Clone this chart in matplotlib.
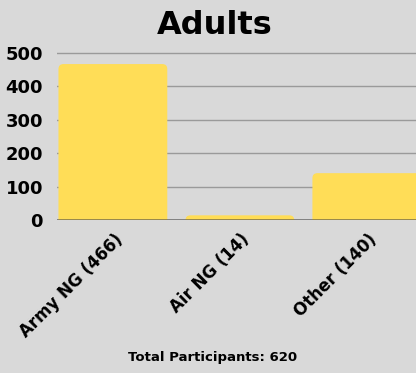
from matplotlib import pyplot as plt
from matplotlib.patches import FancyBboxPatch
from matplotlib.transforms import ScaledTranslation

categories = ['Army NG (466)', 'Air NG (14)', 'Other (140)']
counts = [466, 14, 140]
total = 620

bg = '#d9d9d9'
yellow = '#ffdd57'

fig = plt.figure(figsize=(4.16, 3.73), dpi=100, facecolor=bg)
ax = fig.add_axes([57/416, 1 - 220/373, 1 - 57/416 + 0.01, 168/373])
ax.set_facecolor(bg)

x = list(range(len(categories)))
bars = ax.bar(x, counts, width=0.857, color=yellow, zorder=3)

# rounded tops: rebuild each bar as a FancyBboxPatch, start it below 0 so the
# bottom corners are clipped away
px_x = 1 / 126        # data x per pixel
px_y = 500 / 168      # data y per pixel
r = 5 * px_x
for b in bars:
    bx, bw, bh = b.get_x(), b.get_width(), b.get_height()
    p = FancyBboxPatch((bx, -10 * px_y), bw, bh + 10 * px_y,
                       boxstyle=f'round,pad=0,rounding_size={r}',
                       mutation_aspect=px_y / px_x,
                       facecolor=yellow, edgecolor='none', zorder=3)
    b.remove()
    ax.add_patch(p)

ax.set_xlim(-0.44, 2.42)
ax.set_ylim(0, 502)
ax.set_yticks([0, 100, 200, 300, 400, 500])
ax.yaxis.grid(True, color='#9a9a9a', linewidth=1, zorder=1)
# semi-transparent baseline: dark between bars, gold-ish over them
ax.axhline(0, color='#444444', linewidth=1.4, alpha=0.55, zorder=4)
for s in ax.spines.values():
    s.set_visible(False)
ax.tick_params(length=0)
ax.tick_params(axis='y', pad=10)
for t in ax.get_yticklabels():
    t.set_fontsize(13)
    t.set_fontweight('bold')

ax.set_xticks(x)
ax.set_xticklabels(categories, rotation=45, ha='right', va='center',
                   rotation_mode='anchor', fontsize=12, fontweight='bold')
for t in ax.get_xticklabels():
    t.set_transform(t.get_transform() + ScaledTranslation(0.07, -0.12, fig.dpi_scale_trans))

fig.text(215/416, 1 - 25/373, 'Adults', ha='center', va='center',
         fontsize=23, fontweight='heavy')
fig.text(213/416, 1 - 357/373, f'Total Participants: {total}', ha='center', va='center',
         fontsize=9.5, fontweight='semibold')

fig.savefig('out.png', dpi=100, facecolor=bg)
